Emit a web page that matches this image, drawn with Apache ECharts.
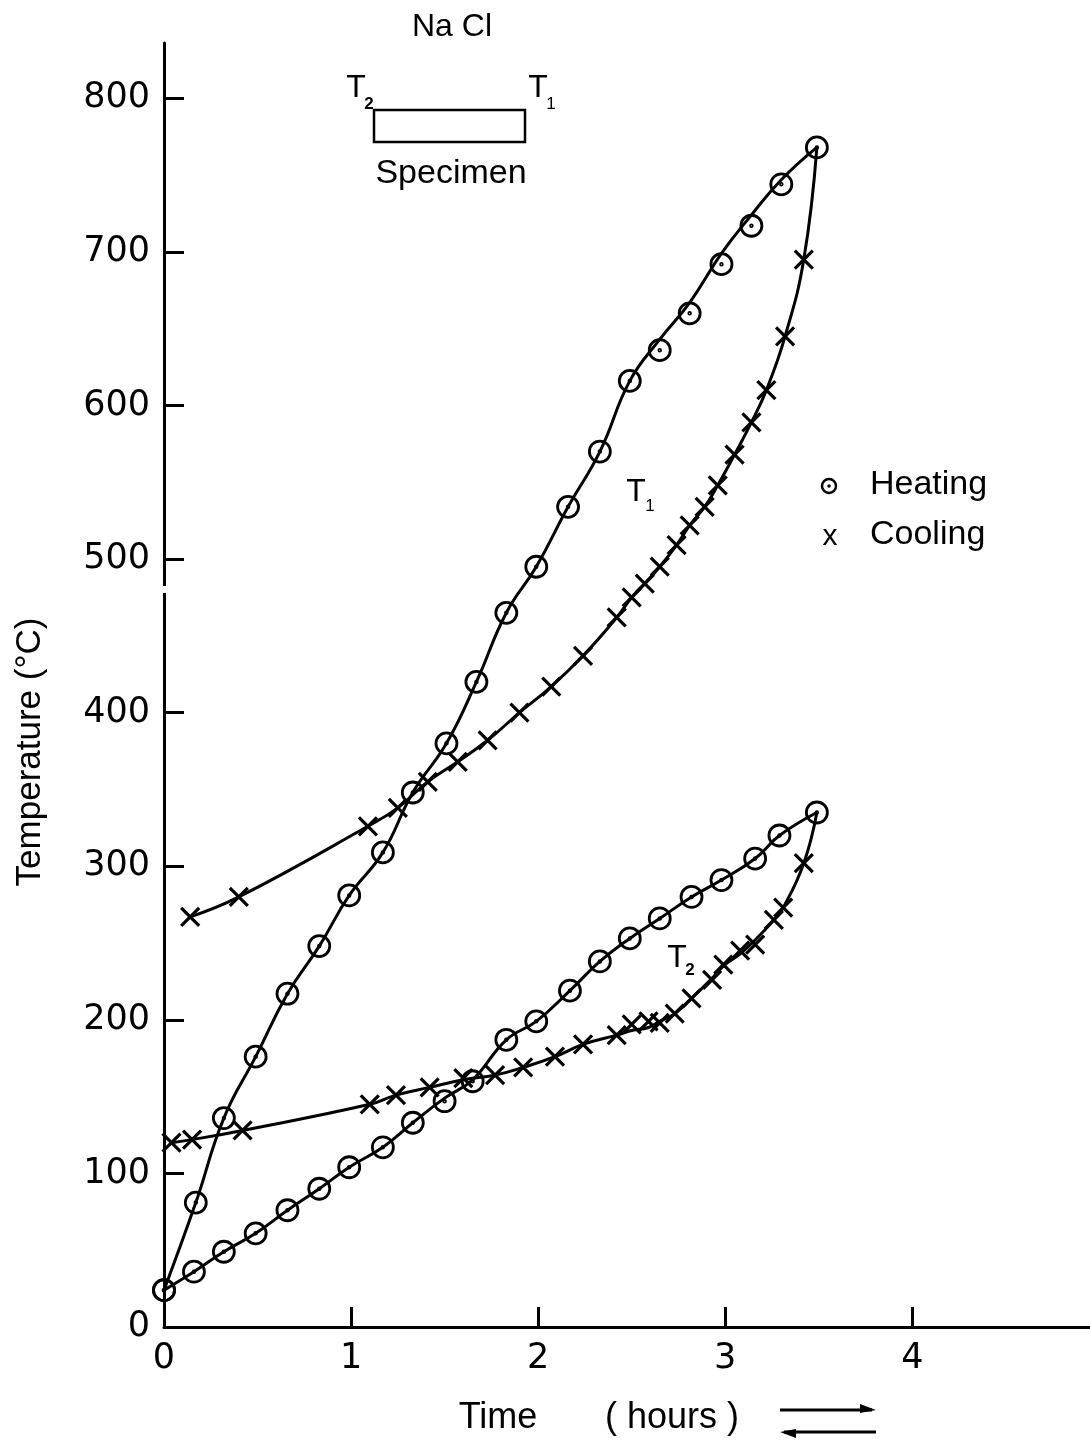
<!DOCTYPE html>
<html><head><meta charset="utf-8">
<script src="https://cdn.jsdelivr.net/npm/echarts@6/dist/echarts.min.js"></script>
<style>html,body{margin:0;padding:0;background:#fff}#c{width:1090px;height:1441px}</style>
</head><body><div id="c"></div>
<script>
// ---- measured points (hours, °C) ----
const t1HeatTime = [0, 0.17, 0.32, 0.49, 0.66, 0.83, 0.99, 1.17, 1.33, 1.51, 1.67, 1.83, 1.99, 2.16, 2.33, 2.49, 2.65, 2.81, 2.98, 3.14, 3.30, 3.49];
const t1HeatTemp = [24, 81, 136, 176, 217, 248, 281, 309, 348, 380, 420, 465, 495, 534, 570, 616, 636, 660, 692, 717, 744, 768];
const t1CoolTime = [3.42, 3.32, 3.22, 3.14, 3.05, 2.96, 2.89, 2.81, 2.74, 2.65, 2.57, 2.50, 2.42, 2.24, 2.07, 1.90, 1.73, 1.57, 1.41, 1.25, 1.09, 0.40, 0.14];
const t1CoolTemp = [695, 645, 610, 589, 568, 548, 534, 522, 509, 495, 484, 475, 462, 437, 417, 400, 382, 368, 355, 338, 326, 280, 267];
const t2HeatTime = [0, 0.16, 0.32, 0.49, 0.66, 0.83, 0.99, 1.17, 1.33, 1.50, 1.65, 1.83, 1.99, 2.17, 2.33, 2.49, 2.65, 2.82, 2.98, 3.16, 3.29, 3.49];
const t2HeatTemp = [24, 36, 49, 61, 76, 90, 104, 117, 133, 147, 160, 187, 199, 219, 238, 253, 266, 280, 291, 305, 320, 335];
const t2CoolTime = [3.42, 3.31, 3.26, 3.16, 3.08, 2.99, 2.93, 2.82, 2.73, 2.65, 2.59, 2.50, 2.42, 2.24, 2.09, 1.92, 1.77, 1.60, 1.42, 1.24, 1.10, 0.42, 0.15, 0.04];
const t2CoolTemp = [302, 273, 265, 249, 245, 236, 226, 214, 204, 198, 199, 197, 190, 184, 176, 169, 164, 162, 156, 151, 145, 128, 122, 120];
// ---- drawn curves (same time points) ----
const t1HeatLineTemp = [24, 81, 136, 176, 217, 248, 281, 309, 348, 380, 420, 465, 495, 534, 570, 616, 643, 667, 699, 724, 747, 768];
const t2HeatLineTemp = [24, 36, 49, 61, 76, 90, 104, 117, 133, 149, 161, 187, 199, 219, 238, 253, 266, 280, 291, 305, 320, 335];
const t2CoolLineTemp = [302, 273, 265, 252, 243, 235, 227, 214, 204, 199, 195, 193, 190, 184, 176, 169, 164, 161, 156, 151, 145, 128, 122, 120];
const xTickLabels = [0, 1, 2, 3, 4];
const yTickLabels = [0, 100, 200, 300, 400, 500, 600, 700, 800];

// ---- helpers ----
const zip = (a, b) => a.map((v, i) => [v, b[i]]);
const lastOf = (a) => a[a.length - 1];
const FONT = '"Liberation Sans", Arial, sans-serif';
const NUMFONT = '"DejaVu Sans", sans-serif';
const CROSS = 'path://M0,0L10,10M10,0L0,10';
const DOTCIRCLE = 'path://M20,10A10,10,0,1,1,0,10A10,10,0,1,1,20,10ZM10.8,10A0.8,0.8,0,1,1,9.2,10A0.8,0.8,0,1,1,10.8,10Z';

function curve(data) {
  return {
    type: 'line', data, smooth: 0.45, clip: false, symbol: 'none',
    lineStyle: { color: '#000', width: 3 }, emphasis: { disabled: true }, silent: true, z: 2
  };
}
function marks(name, t, v, symbol, size, bw) {
  return {
    type: 'scatter', name, data: zip(t, v), clip: false,
    symbol, symbolSize: size, symbolKeepAspect: true,
    itemStyle: { color: 'rgba(0,0,0,0)', borderColor: '#000', borderWidth: bw, opacity: 1 },
    emphasis: { disabled: true }, silent: true, z: 3
  };
}
function txt(x, y, text, size, opts) {
  return Object.assign({
    type: 'text', x, y,
    style: { text, font: size + 'px ' + FONT, fill: '#000', align: 'center', verticalAlign: 'middle' }
  }, opts || {});
}
const peak1 = [lastOf(t1HeatTime), lastOf(t1HeatTemp)];
const peak2 = [lastOf(t2HeatTime), lastOf(t2HeatTemp)];

const chart = echarts.init(document.getElementById('c'), null, { renderer: 'canvas' });
chart.setOption({
  animation: false,
  backgroundColor: '#fff',
  grid: { left: 164, right: 0, top: 43, bottom: 114, containLabel: false },
  xAxis: {
    type: 'value', min: 0, max: 4.95, interval: 1,
    axisLine: { lineStyle: { color: '#000', width: 3 } },
    axisTick: { inside: true, length: 20, lineStyle: { color: '#000', width: 3 }, customValues: xTickLabels.slice(1) },
    axisLabel: { customValues: xTickLabels, color: '#000', fontSize: 35, fontFamily: NUMFONT, margin: 14 },
    splitLine: { show: false }
  },
  yAxis: {
    type: 'value', min: 0, max: 836, interval: 100,
    axisLine: { lineStyle: { color: '#000', width: 3 } },
    axisTick: { inside: true, length: 20, lineStyle: { color: '#000', width: 3 }, customValues: yTickLabels.slice(1) },
    axisLabel: { customValues: yTickLabels, color: '#000', fontSize: 35, fontFamily: NUMFONT, margin: 14 },
    splitLine: { show: false }
  },
  series: [
    curve(zip(t1HeatTime, t1HeatLineTemp)),
    curve([peak1].concat(zip(t1CoolTime, t1CoolTemp))),
    curve(zip(t2HeatTime, t2HeatLineTemp)),
    curve([peak2].concat(zip(t2CoolTime, t2CoolLineTemp))),
    marks('Heating', t1HeatTime, t1HeatTemp, DOTCIRCLE, 21, 2.8),
    marks('Heating', t2HeatTime, t2HeatTemp, DOTCIRCLE, 21, 2.8),
    marks('Cooling', t1CoolTime, t1CoolTemp, CROSS, 18, 3.2),
    marks('Cooling', t2CoolTime, t2CoolTemp, CROSS, 18, 3.2)
  ],
  graphic: [
    // y-axis break
    { type: 'rect', shape: { x: 157, y: 586, width: 14, height: 7 }, style: { fill: '#fff' }, z: 100 },
    // specimen sketch
    txt(452, 27, 'Na Cl', 32),
    { type: 'rect', shape: { x: 374, y: 110, width: 151, height: 32 }, style: { fill: 'none', stroke: '#000', lineWidth: 2.5 } },
    txt(356, 88, 'T', 32),
    txt(369, 104, '2', 17, { style: { text: '2', font: 'bold 17px ' + FONT, fill: '#000', align: 'center', verticalAlign: 'middle' } }),
    txt(538, 88, 'T', 32),
    txt(551, 104, '1', 17),
    txt(451, 174, 'Specimen', 34),
    // curve labels
    txt(636, 492, 'T', 32),
    txt(650, 506, '1', 17),
    txt(677, 958, 'T', 32),
    txt(690, 970, '2', 17, { style: { text: '2', font: 'bold 17px ' + FONT, fill: '#000', align: 'center', verticalAlign: 'middle' } }),
    // legend
    { type: 'circle', shape: { cx: 829, cy: 486, r: 7 }, style: { fill: 'none', stroke: '#000', lineWidth: 2.5 } },
    { type: 'circle', shape: { cx: 829, cy: 486, r: 1.8 }, style: { fill: '#000' } },
    txt(870, 485, 'Heating', 34, { style: { text: 'Heating', font: '34px ' + FONT, fill: '#000', align: 'left', verticalAlign: 'middle' } }),
    txt(830, 537, 'x', 30),
    txt(870, 535, 'Cooling', 34, { style: { text: 'Cooling', font: '34px ' + FONT, fill: '#000', align: 'left', verticalAlign: 'middle' } }),
    // axis titles
    txt(30, 752, 'Temperature (°C)', 35, { rotation: Math.PI / 2 }),
    txt(498, 1418, 'Time', 36),
    txt(672, 1418, '( hours )', 36),
    // arrows
    { type: 'line', shape: { x1: 780, y1: 1410, x2: 872, y2: 1410 }, style: { stroke: '#000', lineWidth: 3 } },
    { type: 'polygon', shape: { points: [[860, 1404], [876, 1410], [860, 1413]] }, style: { fill: '#000' } },
    { type: 'line', shape: { x1: 784, y1: 1432, x2: 876, y2: 1432 }, style: { stroke: '#000', lineWidth: 3 } },
    { type: 'polygon', shape: { points: [[796, 1429], [780, 1432], [796, 1438]] }, style: { fill: '#000' } }
  ]
});
</script>
</body></html>
